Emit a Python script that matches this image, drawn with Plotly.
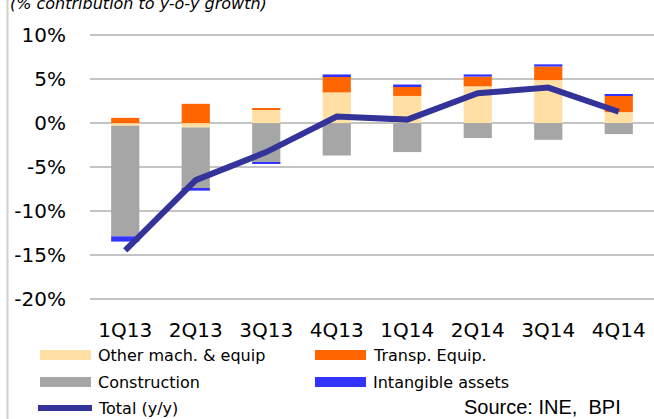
import plotly.graph_objects as go

categories = ["1Q13", "2Q13", "3Q13", "4Q13", "1Q14", "2Q14", "3Q14", "4Q14"]
other_mach = [-0.3, -0.5, 1.5, 3.5, 3.1, 4.2, 4.9, 1.25]
transp_equip = [0.6, 2.2, 0.2, 1.85, 1.1, 1.1, 1.55, 1.85]
construction = [-12.6, -7.0, -4.45, -3.7, -3.3, -1.7, -1.9, -1.25]
intangible = [-0.6, -0.2, -0.15, 0.2, 0.2, 0.25, 0.25, 0.2]
total = [-14.5, -6.5, -3.3, 0.75, 0.4, 3.4, 4.05, 1.3]
y_ticks = [10, 5, 0, -5, -10, -15, -20]
y_tick_labels = ["10%", "5%", "0%", "-5%", "-10%", "-15%", "-20%"]

C_YEL = "#FFDFA3"
C_ORA = "#FF6600"
C_GRY = "#A6A6A6"
C_BLU = "#3333FF"
C_LINE = "#333399"

fig = go.Figure()
for name, vals, col in [
    ("Other mach. & equip", other_mach, C_YEL),
    ("Transp. Equip.", transp_equip, C_ORA),
    ("Construction", construction, C_GRY),
    ("Intangible assets", intangible, C_BLU),
]:
    fig.add_trace(go.Bar(x=categories, y=vals, name=name, marker=dict(color=col, line=dict(width=0)),
                         width=0.4, showlegend=False))
fig.add_trace(go.Scatter(x=categories, y=total, name="Total (y/y)", mode="lines",
                         line=dict(color=C_LINE, width=6), showlegend=False))

W, H = 654, 419
L, R, T, B = 90, 0, 31, 116
pw, ph = W - L - R, H - T - B

def px(x):
    return (x - L) / pw

def py(y):
    return 1 - (y - T) / ph

shapes = []
annotations = []
font_leg = dict(family="DejaVu Sans, Verdana, sans-serif", size=16, color="#000000")
legend_items = [
    ("Other mach. & equip", C_YEL, 40, 355, "bar"),
    ("Transp. Equip.", C_ORA, 315, 355, "bar"),
    ("Construction", C_GRY, 40, 382, "bar"),
    ("Intangible assets", C_BLU, 315, 382, "bar"),
    ("Total (y/y)", C_LINE, 40, 408, "line"),
]
for text, col, x0, yc, kind in legend_items:
    if kind == "bar":
        shapes.append(dict(type="rect", xref="paper", yref="paper", x0=px(x0), x1=px(x0 + 51),
                           y0=py(yc + 5), y1=py(yc - 5), fillcolor=col, line=dict(width=0), layer="above"))
    else:
        shapes.append(dict(type="line", xref="paper", yref="paper", x0=px(x0 - 2), x1=px(x0 + 52),
                           y0=py(yc), y1=py(yc), line=dict(color=col, width=6), layer="above"))
    annotations.append(dict(text=text, xref="paper", yref="paper", x=px(x0 + 56), y=py(yc),
                            xanchor="left", yanchor="middle", showarrow=False, font=font_leg))

annotations.append(dict(text="Source: INE,  BPI", xref="paper", yref="paper", x=px(462), y=py(407),
                        xanchor="left", yanchor="middle", showarrow=False,
                        font=dict(family="Liberation Sans, Arial, sans-serif", size=20, color="#000000")))
annotations.append(dict(text="<i>(% contribution to y-o-y growth)</i>", xref="paper", yref="paper",
                        x=px(8), y=py(15), xanchor="left", yanchor="bottom", showarrow=False,
                        font=dict(family="DejaVu Sans, Verdana, sans-serif", size=16, color="#000000")))
# left border line of the chart frame
shapes.append(dict(type="line", xref="paper", yref="paper", x0=px(7.5), x1=px(7.5), y0=py(-5), y1=py(H + 5),
                   line=dict(color="#D0D0D0", width=2)))

fig.update_layout(
    width=W, height=H,
    margin=dict(l=L, r=R, t=T, b=B, pad=0),
    barmode="relative",
    bargap=0.6,
    plot_bgcolor="white",
    paper_bgcolor="white",
    shapes=shapes,
    annotations=annotations,
    font=dict(family="DejaVu Sans, Verdana, sans-serif", size=20, color="#000000"),
    xaxis=dict(showgrid=False, showline=False, zeroline=False, ticks="outside", ticklen=9,
               tickcolor="rgba(0,0,0,0)", tickfont=dict(size=20)),
    yaxis=dict(range=[-20.5, 10.5], tickvals=y_ticks, ticktext=y_tick_labels, showgrid=True,
               gridcolor="#C4C4C4", gridwidth=2, zeroline=False, showline=False, ticks="outside",
               ticklen=19, tickcolor="rgba(0,0,0,0)", tickfont=dict(size=20)),
)

fig.write_html("out.html", config={"displayModeBar": False},
               post_script="document.body.style.margin='0px';document.body.style.overflow='hidden';")
